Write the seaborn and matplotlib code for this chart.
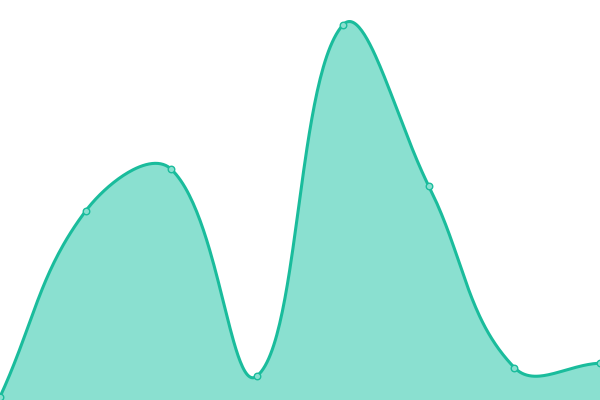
import numpy as np
import pandas as pd
import matplotlib
matplotlib.use("Agg")
import matplotlib.pyplot as plt
import seaborn as sns

# values (y axis 0..128, no visible axes)
positions = [0, 1, 2, 3, 4, 5, 6, 7]
values = [1, 60.5, 73.8, 7.7, 120, 68.6, 10.4, 11.8]

line_color = "#1abc9c"
fill_color = "#8ae0d0"

W, H = 600, 400
XMAX, YMAX = 7, 128


def spline_curve(xs, ys, tension=0.4, n=60):
    # chart.js style spline, worked out in pixel space
    sx, sy = W / XMAX, H / YMAX
    p = np.column_stack([np.array(xs) * sx, np.array(ys) * sy]).astype(float)
    cp_prev, cp_next = [], []
    for i in range(len(p)):
        prev = p[max(i - 1, 0)]
        nxt = p[min(i + 1, len(p) - 1)]
        d01 = np.hypot(*(p[i] - prev))
        d12 = np.hypot(*(nxt - p[i]))
        tot = d01 + d12
        s01 = d01 / tot if tot else 0
        s12 = d12 / tot if tot else 0
        cp_prev.append(p[i] - tension * s01 * (nxt - prev))
        cp_next.append(p[i] + tension * s12 * (nxt - prev))
    t = np.linspace(0, 1, n)[:, None]
    pts = []
    for i in range(len(p) - 1):
        a, b, c, d = p[i], cp_next[i], cp_prev[i + 1], p[i + 1]
        seg = (1 - t) ** 3 * a + 3 * (1 - t) ** 2 * t * b + 3 * (1 - t) * t ** 2 * c + t ** 3 * d
        pts.append(seg)
    pts = np.vstack(pts)
    return pts[:, 0] / sx, pts[:, 1] / sy


cx, cy = spline_curve(positions, values)
curve = pd.DataFrame({"x": cx, "y": cy})
points = pd.DataFrame({"x": positions, "y": values})

sns.set_style("white")
fig = plt.figure(figsize=(6, 4), dpi=100)
ax = fig.add_axes([0, 0, 1, 1])

ax.fill_between(cx, cy, 0, color=fill_color, linewidth=0)
sns.lineplot(data=curve, x="x", y="y", sort=False, color=line_color,
             linewidth=2.2, ax=ax, estimator=None)
sns.scatterplot(data=points, x="x", y="y", s=22, color=fill_color,
                edgecolor=line_color, linewidth=1.0, ax=ax, zorder=5, clip_on=False)

ax.set_xlim(0, XMAX)
ax.set_ylim(0, YMAX)
ax.set_axis_off()

fig.savefig("out.png", dpi=100)
